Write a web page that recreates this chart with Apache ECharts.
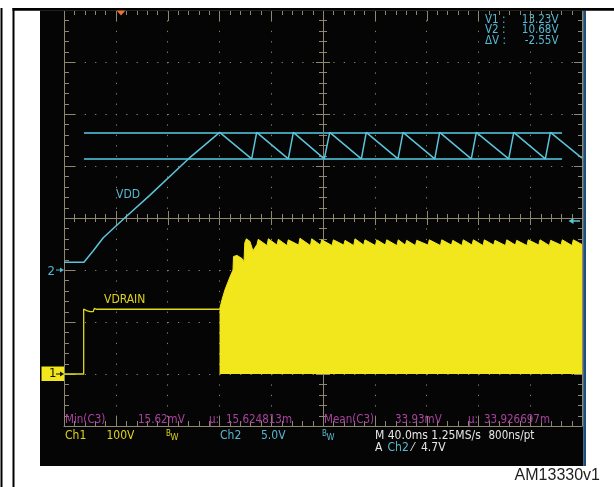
<!DOCTYPE html>
<html><head><meta charset="utf-8">
<script src="https://cdn.jsdelivr.net/npm/echarts@6/dist/echarts.min.js"></script>
<style>html,body{margin:0;padding:0;background:#fff}#c{width:614px;height:487px}</style>
</head><body><div id="c"></div>
<script>
// ---- Data (time in ms across the 400 ms screen, 40 ms/div) ----
// Ch2 : VDD (volts, 5 V/div)
const vddT = [0, 15.4, 22.6, 30.3, 46.6, 66.4, 96.0, 120.2, 144.9, 148.8, 173.2, 177.1, 201.0, 205.2, 229.6, 233.4, 257.9, 261.8, 286.3, 290.1, 314.5, 318.4, 343.4, 347.3, 371.7, 375.6, 400];
const vddV = [0.75, 0.75, 1.85, 3.1, 4.97, 7.2, 10.68, 13.23, 10.68, 13.23, 10.68, 13.23, 10.68, 13.23, 10.68, 13.23, 10.68, 13.23, 10.68, 13.23, 10.68, 13.23, 10.68, 13.23, 10.68, 13.23, 10.75];
// Ch1 : VDRAIN before switching starts (volts, 100 V/div)
const vdrT = [0, 15.2, 15.2, 17.5, 20.1, 22.6, 23.4, 25.3, 31.1, 31.7, 32.3, 40.1, 40.7, 41.3, 56.8, 57.4, 58.0, 73.5, 74.1, 74.7, 91.1, 91.7, 92.3, 101.9, 102.5, 103.1, 111.6, 112.2, 112.8, 120.1];
const vdrV = [0, 0, 125, 122, 120, 120, 126, 124.5, 124.5, 127, 124.5, 124.5, 127, 124.5, 124.5, 127, 124.5, 124.5, 127, 124.5, 124.5, 127, 124.5, 124.5, 127, 124.5, 124.5, 127, 124.5, 124.5];
// Ch1 : VDRAIN switching burst envelope (filled down to 0 V)
const burstT = [120.1, 122.0, 124.3, 128.2, 130.5, 130.9, 133.6, 137.5, 139.0, 139.6, 140.8, 143.6, 145.9, 149.0, 150.0,
  156.8, 157.8, 164.5, 165.5, 172.2, 173.2, 181.2, 182.2, 190.3, 191.3, 198.0, 199.0, 207.0, 208.0, 216.0, 217.0,
  223.7, 224.7, 231.4, 232.4, 240.5, 241.5, 248.2, 249.2, 257.1, 258.1, 263.6, 264.6, 271.4, 272.4, 281.1, 282.1,
  290.7, 291.7, 299.2, 300.2, 307.3, 308.3, 315.1, 316.1, 323.6, 324.6, 331.8, 332.8, 340.9, 341.9, 348.6, 349.6,
  357.5, 358.5, 366.6, 367.6, 374.8, 375.8, 383.8, 384.8, 392.3, 393.3, 400];
const burstV = [124, 143, 162, 187, 200, 226, 228, 222, 216, 252, 260, 255, 237, 249, 259,
  247, 260, 248, 259, 247, 258, 248, 261, 247, 260, 248, 258, 247, 258, 248, 257,
  247, 260, 248, 258, 247, 258, 248, 258, 247, 258, 248, 257, 247, 257, 248, 258,
  247, 258, 248, 257, 247, 258, 248, 258, 247, 258, 248, 257, 247, 258, 248, 257,
  247, 258, 248, 258, 247, 257, 248, 258, 247, 258, 249];
// Cursors (Ch2)
const cursorV = [13.23, 10.68];
const cursorT = [15.4, 384.6];
const readoutLabels = ['V1 :', 'V2 :', '\u0394V :'];
const readoutValues = ['13.23V', '10.68V', '-2.55V'];
// Graticule: 10 x 8 divisions, 5 sub-divisions each
const divX = [-5, 5], divY = [-4, 4], subDiv = 5;

// ---- Styling ----
const TAN = '#8e8870', DOT = '#85806a';
const CYAN = '#5cc4da', CUR = '#3f9cac', YEL = '#f1e71c', YTR = '#e2d81e';
const TXT_Y = '#ddd31e', TXT_C = '#58b8d0', TXT_W = '#e6e6e6', TXT_M = '#a8429e';
const FN = "'Liberation Sans Narrow','DejaVu Sans Condensed',sans-serif";
const RECT = { left: 64, top: 10, width: 518, height: 416, containLabel: false, outerBoundsMode: 'none', show: false };

// ---- Graticule axes (division units) ----
const grids = [], xAxis = [], yAxis = [];
function divAx(dim, gi, step, split, line, pos) {
  return {
    gridIndex: gi, type: 'value', position: pos || (dim === 'x' ? 'bottom' : 'left'),
    min: dim === 'x' ? divX[0] : divY[0], max: dim === 'x' ? divX[1] : divY[1], interval: step,
    axisLabel: { show: false }, axisTick: { show: false }, z: 1,
    axisLine: { show: !!line, onZero: false, lineStyle: { color: TAN, width: 1 } },
    splitLine: split ? { show: true, lineStyle: split } : { show: false }
  };
}
const st = (type, color) => ({ color: color || TAN, width: 1, type: type });
function layer(xs, xStep, ys, yStep, lines) {
  const gi = grids.length;
  grids.push(Object.assign({}, RECT));
  xAxis.push(divAx('x', gi, xStep, xs, lines));
  yAxis.push(divAx('y', gi, yStep, ys, lines));
  return gi;
}
const g0 = layer(st([1.3, 9.1], DOT), 1, st([1.3, 9.06], DOT), 1, true);            // dotted divisions + borders
yAxis.push(divAx('y', g0, 1, null, true, 'right'));                                  // right border
layer(st('solid'), 5, st('solid'), 4);                                               // centre cross

// ---- Data grid ----
const gd = grids.length;
grids.push(Object.assign({}, RECT));
const TIME_X = xAxis.length;
xAxis.push({ gridIndex: gd, type: 'value', min: 0, max: 400, interval: 40, show: false,
  axisLine: { onZero: false }, splitLine: { show: false } });
const CH1_Y = yAxis.length;
yAxis.push({ gridIndex: gd, type: 'value', min: -100, max: 700, interval: 100, position: 'left', show: false,
  axisLine: { onZero: false }, splitLine: { show: false } });
const CH2_Y = yAxis.length;
yAxis.push({ gridIndex: gd, type: 'value', min: -15, max: 25, interval: 5, position: 'right', show: false,
  axisLine: { onZero: false }, splitLine: { show: false } });

const pairs = (t, v) => t.map((x, i) => [x, v[i]]);

function txt(x, y, s, fill, size, align, family) {
  return { type: 'text', x: x, y: y, z: 20, silent: true,
    style: { text: s, fill: fill, font: size + 'px ' + (family || FN),
      textAlign: align || 'left', align: align || 'left', textVerticalAlign: 'middle', verticalAlign: 'middle' } };
}
const graphics = [
  // page frame lines
  { type: 'rect', z: 30, shape: { x: 0.5, y: 8, width: 2, height: 479 }, style: { fill: '#000' } },
  { type: 'rect', z: 30, shape: { x: 12.5, y: 8, width: 2, height: 479 }, style: { fill: '#000' } },
  { type: 'rect', z: 30, shape: { x: 12.5, y: 8, width: 601.5, height: 2.8 }, style: { fill: '#000' } },
  // scope screen
  { type: 'rect', z: -1, shape: { x: 40, y: 10.5, width: 543.5, height: 455.5 }, style: { fill: '#050505' } },
  { type: 'rect', z: -1, shape: { x: 583.5, y: 10.5, width: 2.5, height: 455.5 }, style: { fill: '#1d4f80' } },
  // trigger position marker
  { type: 'polygon', z: 31, shape: { points: [[116.5, 10.5], [125.5, 10.5], [121, 15.5]] }, style: { fill: '#f07030' } },
  // trigger level arrow
  { type: 'polygon', z: 20, shape: { points: [[568.5, 221], [573.5, 218], [573.5, 224]] }, style: { fill: CYAN } },
  { type: 'line', z: 20, shape: { x1: 572, y1: 221, x2: 580, y2: 221 }, style: { stroke: CYAN, lineWidth: 1.5 } },
  // ch1 ground marker
  { type: 'rect', z: 20, shape: { x: 41.5, y: 366.5, width: 22.5, height: 14.5 }, style: { fill: YEL } },
  txt(49, 374, '1', '#111', 13),
  { type: 'line', z: 21, shape: { x1: 56, y1: 374, x2: 62, y2: 374 }, style: { stroke: '#111', lineWidth: 1 } },
  { type: 'polygon', z: 21, shape: { points: [[60, 371.5], [64, 374], [60, 376.5]] }, style: { fill: '#111' } },
  // ch2 ground marker
  txt(47.5, 271.5, '2', TXT_C, 13),
  { type: 'line', z: 21, shape: { x1: 56, y1: 270, x2: 62, y2: 270 }, style: { stroke: TXT_C, lineWidth: 1 } },
  { type: 'polygon', z: 21, shape: { points: [[60, 267.5], [64, 270], [60, 272.5]] }, style: { fill: TXT_C } },
  // trace labels
  txt(116, 195, 'VDD', TXT_C, 12),
  txt(104, 300, 'VDRAIN', TXT_Y, 12),
  // measurement row
  txt(65, 420, 'Min(C3)', TXT_M, 11.5),
  txt(138, 420, '15.62mV', TXT_M, 11.5),
  txt(209, 420, '\u00b5:', TXT_M, 11.5),
  txt(226, 420, '15.624813m', TXT_M, 11.5),
  txt(324, 420, 'Mean(C3)', TXT_M, 11.5),
  txt(395, 420, '33.93mV', TXT_M, 11.5),
  txt(468, 420, '\u00b5:', TXT_M, 11.5),
  txt(484, 420, '33.926697m', TXT_M, 11.5),
  // status rows
  txt(65, 436, 'Ch1', TXT_Y, 12),
  txt(106.5, 436, '100V', TXT_Y, 12),
  txt(166, 433.5, 'B', TXT_Y, 8),
  txt(170.5, 437.5, 'W', TXT_Y, 9),
  txt(220, 436, 'Ch2', TXT_C, 12),
  txt(261, 436, '5.0V', TXT_C, 12),
  txt(322, 433.5, 'B', TXT_C, 8),
  txt(326.5, 437.5, 'W', TXT_C, 9),
  txt(375, 436, 'M 40.0ms 1.25MS/s', TXT_W, 12),
  txt(488.5, 436, '800ns/pt', TXT_W, 11.5),
  txt(375, 448, 'A', TXT_W, 12),
  txt(387.5, 448, 'Ch2', TXT_C, 12),
  txt(412, 448, '\u2044', TXT_W, 12),
  txt(421, 448, '4.7V', TXT_W, 12),
  // figure id
  txt(600, 476, 'AM13330v1', '#1e1e1e', 16, 'right', "'Liberation Sans',Arial,sans-serif")
];
readoutLabels.forEach((s, i) => {
  graphics.push(txt(485, 20 + i * 10.5, s, TXT_C, 11.5));
  graphics.push(txt(558.5, 20 + i * 10.5, readoutValues[i], TXT_C, 11.5, 'right'));
});

const chart = echarts.init(document.getElementById('c'), null, { renderer: 'canvas' });
chart.setOption({
  animation: false,
  backgroundColor: '#ffffff',
  grid: grids,
  xAxis: xAxis,
  yAxis: yAxis,
  graphic: { elements: graphics },
  series: [
    { name: 'VDRAIN burst', type: 'line', xAxisIndex: TIME_X, yAxisIndex: CH1_Y, data: pairs(burstT, burstV),
      symbol: 'none', showSymbol: false, z: 3, silent: true,
      lineStyle: { color: YEL, width: 1 }, areaStyle: { color: YEL, opacity: 1, origin: 'auto' } },
    { name: 'VDRAIN', type: 'line', xAxisIndex: TIME_X, yAxisIndex: CH1_Y, data: pairs(vdrT, vdrV),
      symbol: 'none', showSymbol: false, z: 4, silent: true,
      lineStyle: { color: YTR, width: 1.3 } },
    { name: 'VDD', type: 'line', xAxisIndex: TIME_X, yAxisIndex: CH2_Y, data: pairs(vddT, vddV),
      symbol: 'none', showSymbol: false, z: 5, silent: true,
      lineStyle: { color: CYAN, width: 1.5 },
      markLine: { silent: true, symbol: ['none', 'none'], label: { show: false },
        lineStyle: { color: CUR, width: 2, type: 'solid' },
        data: cursorV.map(v => [{ coord: [cursorT[0], v] }, { coord: [cursorT[1], v] }]) } }
  ]
});

// ---- Graticule tick marks, placed through the division axes' scales ----
const toPx = (xd, yd) => chart.convertToPixel({ xAxisIndex: 0, yAxisIndex: 0 }, [xd, yd]);
const [L, B] = toPx(divX[0], divY[0]);
const [R, T] = toPx(divX[1], divY[1]);
const [CX, CY] = toPx(0, 0);
const tickEls = [];
function seg(x1, y1, x2, y2) {
  tickEls.push({ type: 'line', z: 1, silent: true, shape: { x1: x1, y1: y1, x2: x2, y2: y2 },
    style: { stroke: TAN, lineWidth: 1 } });
}
const nx = (divX[1] - divX[0]) * subDiv, ny = (divY[1] - divY[0]) * subDiv;
for (let i = 0; i <= nx; i++) {
  const major = i % subDiv === 0;
  const x = Math.round(toPx(divX[0] + i / subDiv, 0)[0]) + 0.5;
  seg(x, T, x, T + (major ? 11 : 5));
  seg(x, B, x, B - (major ? 10 : 5));
  seg(x, CY - (major ? 7 : 4), x, CY + (major ? 7 : 4));
}
for (let j = 0; j <= ny; j++) {
  const major = j % subDiv === 0;
  const y = Math.round(toPx(0, divY[0] + j / subDiv)[1]) + 0.5;
  seg(L, y, L + (major ? 11 : 5), y);
  seg(R, y, R - (major ? 8 : 4), y);
  seg(CX - (major ? 7 : 4), y, CX + (major ? 7 : 4), y);
}
chart.setOption({ graphic: { elements: graphics.concat(tickEls) } });
</script></body></html>
